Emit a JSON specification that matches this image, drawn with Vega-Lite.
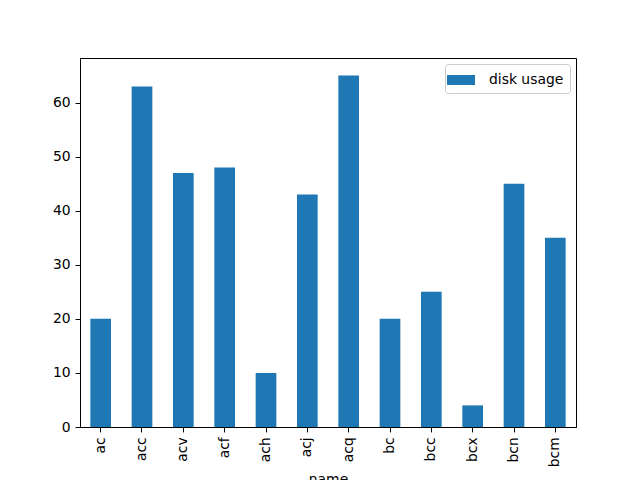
{
  "$schema": "https://vega.github.io/schema/vega-lite/v6.json",
  "autosize": {"type": "none"},
  "width": 496,
  "height": 369,
  "padding": {"left": 80, "top": 58, "right": 64, "bottom": 53},
  "background": "white",
  "config": {
    "font": "DejaVu Sans",
    "view": {"stroke": "black", "strokeWidth": 1},
    "axis": {"grid": false, "domainColor": "black", "tickColor": "black", "labelColor": "black", "titleColor": "black", "labelFontSize": 13.9, "titleFontSize": 13.9, "titleFontWeight": "normal", "tickSize": 4.9, "labelPadding": 4.9}
  },
  "data": {"values": [
    {"name": "ac", "value": 20, "series": "disk usage"},
    {"name": "acc", "value": 63, "series": "disk usage"},
    {"name": "acv", "value": 47, "series": "disk usage"},
    {"name": "acf", "value": 48, "series": "disk usage"},
    {"name": "ach", "value": 10, "series": "disk usage"},
    {"name": "acj", "value": 43, "series": "disk usage"},
    {"name": "acq", "value": 65, "series": "disk usage"},
    {"name": "bc", "value": 20, "series": "disk usage"},
    {"name": "bcc", "value": 25, "series": "disk usage"},
    {"name": "bcx", "value": 4, "series": "disk usage"},
    {"name": "bcn", "value": 45, "series": "disk usage"},
    {"name": "bcm", "value": 35, "series": "disk usage"}
  ]},
  "mark": {"type": "bar"},
  "encoding": {
    "x": {"field": "name", "type": "nominal", "sort": null,
      "scale": {"paddingInner": 0.5, "paddingOuter": 0.25},
      "axis": {"labelAngle": -90, "title": "name", "titlePadding": 6}},
    "y": {"field": "value", "type": "quantitative",
      "scale": {"domain": [0, 68.25], "nice": false},
      "axis": {"values": [0, 10, 20, 30, 40, 50, 60], "title": null}},
    "color": {"field": "series", "type": "nominal",
      "scale": {"range": ["#1f77b4"]},
      "legend": {"title": null, "orient": "none", "legendX": 365, "legendY": 6,
        "strokeColor": "#cccccc", "fillColor": "white", "cornerRadius": 3, "padding": 6,
        "symbolType": "M-1.4,-0.5H1.4V0.5H-1.4Z", "symbolSize": 400, "symbolStrokeWidth": 0,
        "labelFontSize": 13.9, "labelOffset": 18, "labelColor": "black"}}
  }
}
